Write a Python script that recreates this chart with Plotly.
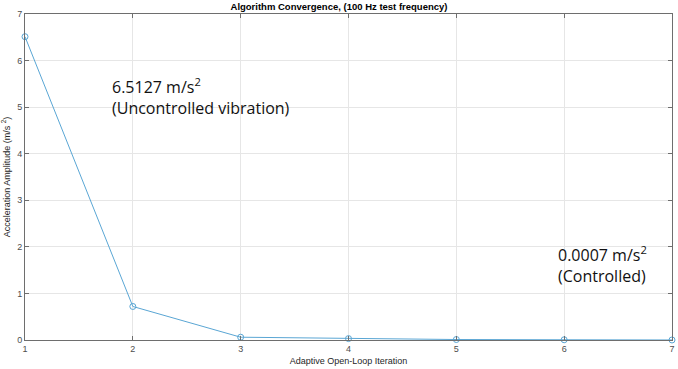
import plotly.graph_objects as go

iterations = [1, 2, 3, 4, 5, 6, 7]
amplitude = [6.5127, 0.72, 0.06, 0.03, 0.01, 0.005, 0.0007]
x_ticks = [1, 2, 3, 4, 5, 6, 7]
y_ticks = [0, 1, 2, 3, 4, 5, 6, 7]

fig = go.Figure()
fig.add_trace(go.Scatter(
    x=iterations, y=amplitude, mode="lines+markers",
    line=dict(color="#5aa6d4", width=1),
    marker=dict(symbol="circle-open", size=6, color="#5aa6d4", line=dict(width=1)),
    cliponaxis=False, showlegend=False,
))

axis_common = dict(
    showline=True, linecolor="#6e6e6e", linewidth=1, mirror="ticks",
    ticks="inside", ticklen=4, tickcolor="#6e6e6e",
    showgrid=True, gridcolor="#e6e6e6", gridwidth=1, zeroline=False,
    tickfont=dict(family="Liberation Sans, Arial", size=9, color="#4d4d4d"),
)

fig.update_xaxes(range=[1, 7], tickvals=x_ticks, ticktext=[str(v) for v in x_ticks], **axis_common,
                 title=dict(text="Adaptive Open-Loop Iteration",
                            font=dict(family="Liberation Sans, Arial", size=9, color="#262626"),
                            standoff=4))
fig.update_yaxes(range=[0, 7], tickvals=y_ticks, **axis_common,
                 title=dict(text="Acceleration Amplitude (m/s <sup>2</sup>)",
                            font=dict(family="Liberation Sans, Arial", size=9, color="#262626"),
                            standoff=6))

fig.add_annotation(x=0.1316, y=0.822, xref="paper", yref="paper", xanchor="left", yanchor="top",
                   text="6.5127 m/s<sup>2</sup><br>(Uncontrolled vibration)", showarrow=False, align="left",
                   font=dict(family="Open Sans", size=16, color="#111111"))
fig.add_annotation(x=0.821, y=0.306, xref="paper", yref="paper", xanchor="left", yanchor="top",
                   text="0.0007 m/s<sup>2</sup><br>(Controlled)", showarrow=False, align="left",
                   font=dict(family="Open Sans", size=16, color="#111111"))

fig.update_layout(
    width=678, height=369,
    margin=dict(l=25, r=3, t=14, b=29),
    paper_bgcolor="white", plot_bgcolor="white",
    title=dict(text="<b>Algorithm Convergence, (100 Hz test frequency)</b>",
               x=0.5, xanchor="center", y=0.99, yanchor="top",
               font=dict(family="Liberation Sans, Arial", size=9.5, color="#000000")),
)

fig.write_html("out.html")
